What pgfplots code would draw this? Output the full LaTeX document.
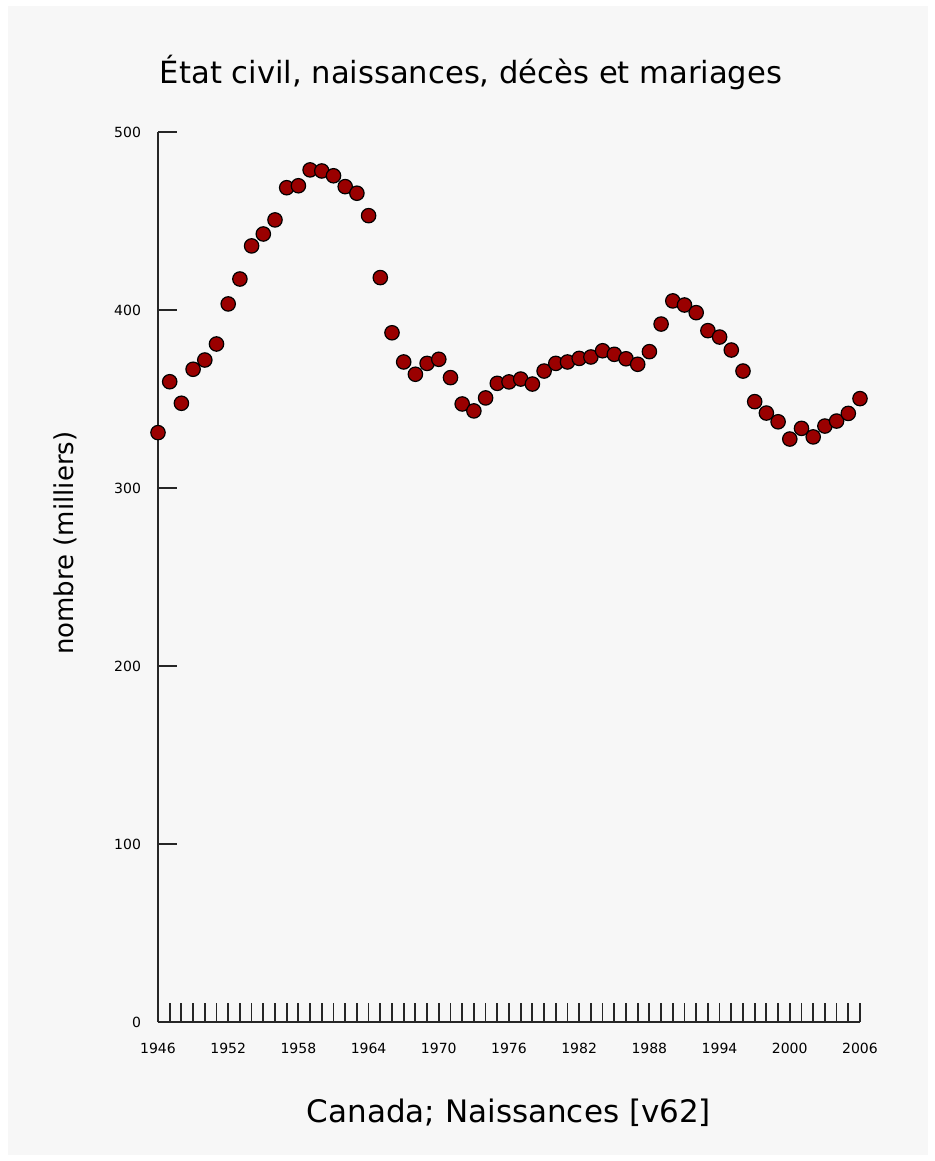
\documentclass[border=0pt]{standalone}
\usepackage{fontspec}
\setmainfont{DejaVu Sans}
\usepackage{pgfplots}
\pgfplotsset{compat=1.18}
\definecolor{bgc}{HTML}{F7F7F7}
\definecolor{mk}{HTML}{9A0000}
\begin{document}
\begin{tikzpicture}
\fill[white] (-79pt,-69.5pt) rectangle (388pt,511pt);
\fill[bgc] (-75pt,-66.5pt) rectangle (385pt,508pt);
\begin{axis}[
  scale only axis, width=351pt, height=445pt,
  xmin=1946, xmax=2006, ymin=0, ymax=500,
  axis x line*=bottom, axis y line*=left,
  axis line style={line width=1pt, color=black!85},
  xtick={1946,...,2006},
  xticklabels={1946,,,,,,1952,,,,,,1958,,,,,,1964,,,,,,1970,,,,,,1976,,,,,,1982,,,,,,1988,,,,,,1994,,,,,,2000,,,,,,2006},
  ytick={0,100,...,500},
  tick align=inside,
  major tick length=9.5pt,
  every tick/.style={line width=0.9pt, color=black!85},
  /pgf/number format/assume math mode=true,
  /pgf/number format/1000 sep={},
  tick label style={font=\fontsize{7}{8}\selectfont, text=black},
  xticklabel style={yshift=-7pt},
  yticklabel style={xshift=-5pt},
  clip=false,
]
\addplot[only marks, mark=*, mark size=3.6pt,
  mark options={fill=mk, draw=black, line width=0.6pt}] coordinates {
(1946,331.1) (1947,359.7) (1948,347.6) (1949,366.7) (1950,371.9)
(1951,380.9) (1952,403.4) (1953,417.4) (1954,436.0) (1955,442.7)
(1956,450.6) (1957,468.7) (1958,469.8) (1959,478.7) (1960,478.1)
(1961,475.4) (1962,469.3) (1963,465.6) (1964,453.0) (1965,418.2)
(1966,387.2) (1967,370.8) (1968,363.9) (1969,370.0) (1970,372.3)
(1971,362.0) (1972,347.2) (1973,343.3) (1974,350.6) (1975,358.8)
(1976,359.6) (1977,361.2) (1978,358.4) (1979,365.7) (1980,370.0)
(1981,370.8) (1982,372.8) (1983,373.6) (1984,377.1) (1985,375.1)
(1986,372.6) (1987,369.5) (1988,376.6) (1989,392.1) (1990,405.1)
(1991,402.8) (1992,398.5) (1993,388.4) (1994,384.8) (1995,377.5)
(1996,365.7) (1997,348.5) (1998,342.1) (1999,337.2) (2000,327.5)
(2001,333.5) (2002,328.7) (2003,334.8) (2004,337.6) (2005,341.9)
(2006,350.2)
};
\node[font=\fontsize{15.3}{18}\selectfont] at (axis description cs:0.4459,1.0674) {État civil, naissances, décès et mariages};
\node[font=\fontsize{13}{15}\selectfont, rotate=90] at (axis description cs:-0.1325,0.538) {nombre (milliers)};
\node[font=\fontsize{15.5}{17}\selectfont] at (axis description cs:0.5,-0.1022) {Canada; Naissances [v62]};
\end{axis}
\end{tikzpicture}
\end{document}
